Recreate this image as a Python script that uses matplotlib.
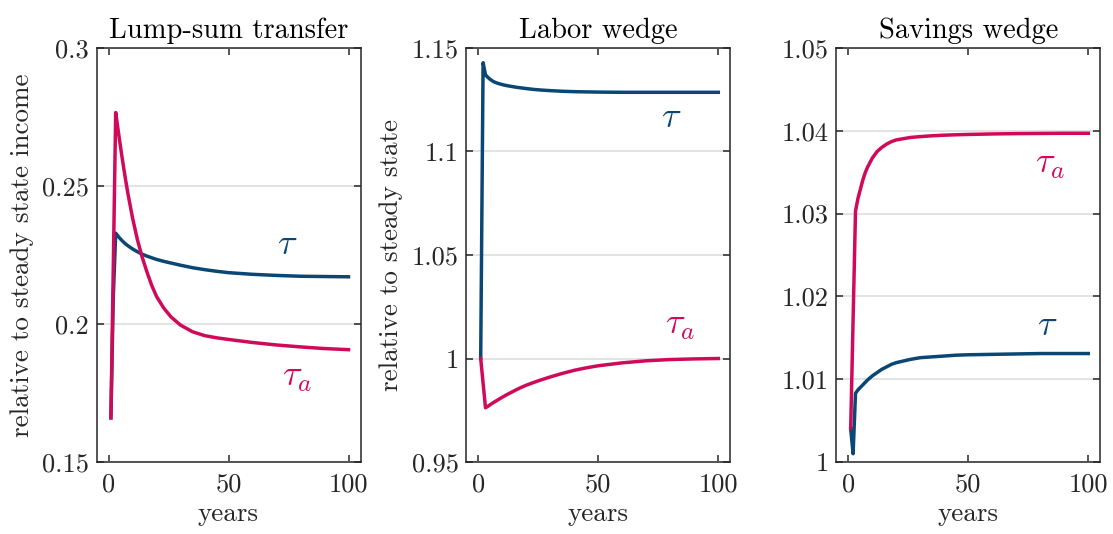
import matplotlib
matplotlib.use("Agg")
import matplotlib.pyplot as plt
from matplotlib.ticker import FuncFormatter

plt.rcParams["font.family"] = "serif"
plt.rcParams["font.serif"] = ["cmr10"]
plt.rcParams["mathtext.fontset"] = "cm"
plt.rcParams["axes.formatter.use_mathtext"] = True

years = [1, 2, 3, 4, 5, 6, 7, 8, 10, 12, 14, 16, 18, 20, 23, 26, 30, 35, 40,
         45, 50, 60, 70, 80, 90, 100]

# Lump-sum transfer (relative to steady state income)
lump_tau = [0.166, 0.210, 0.2329, 0.2318, 0.2308, 0.2299, 0.2291, 0.2284, 0.2272,
            0.2262, 0.2253, 0.2246, 0.2240, 0.2234, 0.2227, 0.2221, 0.2213, 0.2204,
            0.2197, 0.2191, 0.2186, 0.2180, 0.2176, 0.2173, 0.2172, 0.2171]
lump_tau_a = [0.166, 0.221, 0.2766, 0.2703, 0.2642, 0.2584, 0.2529, 0.2477, 0.2385,
              0.2307, 0.2243, 0.2189, 0.2140, 0.2100, 0.2058, 0.2026, 0.1996, 0.1972,
              0.1958, 0.1950, 0.1944, 0.1933, 0.1924, 0.1917, 0.1911, 0.1907]

# Labor wedge (relative to steady state)
labor_tau = [1.0, 1.1429, 1.1370, 1.1358, 1.1348, 1.1340, 1.1334, 1.1330, 1.1323,
             1.1318, 1.1314, 1.1310, 1.1307, 1.1304, 1.1300, 1.1297, 1.1294, 1.1291,
             1.1289, 1.1288, 1.1287, 1.1286, 1.1286, 1.1286, 1.1286, 1.1286]
labor_tau_a = [1.0, 0.9881, 0.9762, 0.9769, 0.9777, 0.9785, 0.9792, 0.9799, 0.9813,
               0.9826, 0.9838, 0.9850, 0.9861, 0.9871, 0.9884, 0.9896, 0.9911, 0.9928,
               0.9943, 0.9955, 0.9965, 0.9979, 0.9989, 0.9995, 0.9998, 1.0000]

# Savings wedge (relative to steady state)
sav_tau = [1.0040, 1.0010, 1.0083, 1.0087, 1.0090, 1.0093, 1.0096, 1.0099, 1.0104,
           1.0108, 1.0112, 1.0115, 1.0118, 1.0120, 1.0122, 1.0124, 1.0126, 1.0127,
           1.0128, 1.0129, 1.01295, 1.0130, 1.01305, 1.0131, 1.0131, 1.0131]
sav_tau_a = [1.0041, 1.0172, 1.0303, 1.0318, 1.0329, 1.0340, 1.0349, 1.0356, 1.0367,
             1.0375, 1.0380, 1.0384, 1.0387, 1.0389, 1.03905, 1.0392, 1.0393, 1.03940,
             1.03947, 1.03952, 1.03956, 1.03962, 1.03966, 1.03968, 1.0397, 1.0397]

titles = ["Lump-sum transfer", "Labor wedge", "Savings wedge"]
ylabels = ["relative to steady state income", "relative to steady state", None]
ylims = [(0.15, 0.3), (0.95, 1.15), (1.0, 1.05)]
yticks = [[0.15, 0.2, 0.25, 0.3],
          [0.95, 1.0, 1.05, 1.1, 1.15],
          [1.0, 1.01, 1.02, 1.03, 1.04, 1.05]]
xticks = [0, 50, 100]
# label anchor positions (years, value) for tau and tau_a
tau_label_pos = [(74.5, 0.2286), (80.5, 1.1162), (83, 1.0164)]
tau_a_label_pos = [(78.5, 0.1804), (84, 1.0157), (84, 1.0359)]

blue = "#0a4775"
red = "#d00a5a"
series = [(lump_tau, lump_tau_a), (labor_tau, labor_tau_a), (sav_tau, sav_tau_a)]

fig = plt.figure(figsize=(11.13, 5.34), dpi=100)
lefts = [96.5, 466.3, 836.3]
W, H = 1113, 534
for i in range(3):
    ax = fig.add_axes([lefts[i] / W, 72 / H, 264 / W, 414 / H])
    tau, tau_a = series[i]
    ax.plot(years, tau, color=blue, lw=2.5, zorder=3)
    ax.plot(years, tau_a, color=red, lw=2.5, zorder=4)

    ax.set_xlim(-5, 105)
    ax.set_ylim(*ylims[i])
    ax.set_xticks(xticks)
    ax.set_yticks(yticks[i])
    fmt = FuncFormatter(lambda v, p: "%g" % round(v, 4))
    ax.xaxis.set_major_formatter(fmt)
    ax.yaxis.set_major_formatter(fmt)
    ax.tick_params(direction="in", length=5, width=1.1, color="#262626",
                   top=True, right=True, labelsize=19, labelcolor="#262626")
    ax.tick_params(axis="y", pad=5.5)
    ax.tick_params(axis="x", pad=8)
    for sp in ax.spines.values():
        sp.set_color("#262626")
        sp.set_linewidth(1.1)
    ax.grid(axis="y", color="#e3e3e3", lw=1.4, zorder=0)
    ax.set_axisbelow(True)

    ax.set_title(titles[i], fontsize=20.5, color="black", pad=7)
    ax.set_xlabel("years", fontsize=19.5, color="#262626", labelpad=4)
    if ylabels[i]:
        ax.set_ylabel(ylabels[i], fontsize=19.5, color="#262626", labelpad=6)

    ax.text(*tau_label_pos[i], r"$\tau$", color=blue, fontsize=26,
            ha="center", va="center")
    ax.text(*tau_a_label_pos[i], r"$\tau_a$", color=red, fontsize=26,
            ha="center", va="center")

fig.savefig("out.png", dpi=100)
